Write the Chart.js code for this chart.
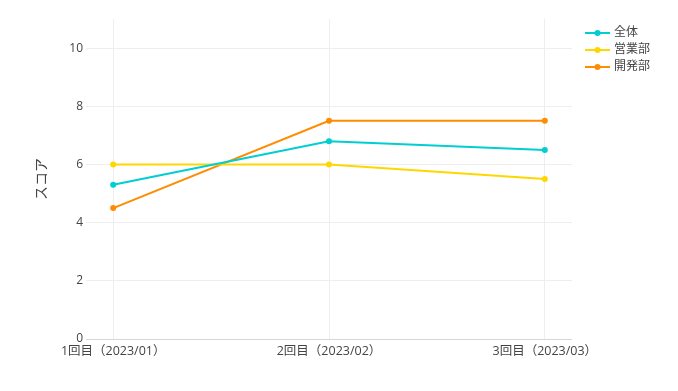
<!DOCTYPE html>
<html>
<head>
<meta charset="utf-8">
<script src="https://cdn.jsdelivr.net/npm/chart.js@4"></script>
<style>
html,body{margin:0;padding:0;background:#fff;}
#wrap{width:678px;height:391px;position:relative;}
</style>
</head>
<body>
<div id="wrap"><canvas id="c" width="678" height="391"></canvas></div>
<script>
const categories = ['1回目（2023/01）', '2回目（2023/02）', '3回目（2023/03）'];
const seriesNames = ['全体', '営業部', '開発部'];
const zentai = [5.3, 6.8, 6.5];
const eigyo = [6.0, 6.0, 5.5];
const kaihatsu = [4.5, 7.5, 7.5];
const yTicks = [0, 2, 4, 6, 8, 10];
const yTitle = 'スコア';
const colors = ['#00CED1', '#FFD700', '#FF8C00'];

const FONT = "'Open Sans', 'Noto Sans CJK JP', sans-serif";
const TXT = '#444';

const seriesValues = [zentai, eigyo, kaihatsu];
const datasets = seriesValues.map((vals, i) => ({
  label: seriesNames[i],
  data: vals.map((v, j) => ({x: j, y: v})),
  borderColor: colors[i],
  backgroundColor: colors[i],
  borderWidth: 2,
  pointRadius: 3,
  pointHoverRadius: 3,
  pointBorderWidth: 0,
  tension: 0
}));

const legendPlugin = {
  id: 'customLegend',
  afterDraw(chart) {
    const ctx = chart.ctx;
    ctx.save();
    ctx.font = '12px ' + FONT;
    ctx.textBaseline = 'middle';
    ctx.textAlign = 'left';
    chart.data.datasets.forEach((ds, i) => {
      const y = 33 + i * 17;
      ctx.strokeStyle = ds.borderColor;
      ctx.lineWidth = 2;
      ctx.beginPath();
      ctx.moveTo(585, y);
      ctx.lineTo(610, y);
      ctx.stroke();
      ctx.fillStyle = ds.borderColor;
      ctx.beginPath();
      ctx.arc(597.5, y, 3, 0, Math.PI * 2);
      ctx.fill();
      ctx.fillStyle = TXT;
      ctx.fillText(ds.label, 614, y);
    });
    ctx.restore();
  }
};

new Chart(document.getElementById('c'), {
  type: 'line',
  data: {datasets},
  plugins: [legendPlugin],
  options: {
    responsive: false,
    animation: false,
    events: [],
    layout: {padding: {left: 0, right: 106, top: 19, bottom: 0}},
    plugins: {legend: {display: false}, tooltip: {enabled: false}},
    scales: {
      x: {
        type: 'linear',
        min: -0.126,
        max: 2.126,
        afterBuildTicks: s => { s.ticks = categories.map((c, i) => ({value: i})); },
        afterFit: s => { s.height = 52; },
        border: {display: false},
        grid: {color: '#eeeeee', drawTicks: false, lineWidth: 1},
        ticks: {
          padding: 5,
          maxRotation: 0,
          autoSkip: false,
          color: TXT,
          font: {family: FONT, size: 12.5},
          callback: v => categories[v] !== undefined ? categories[v] : ''
        }
      },
      y: {
        type: 'linear',
        min: 0,
        max: 11,
        afterBuildTicks: s => { s.ticks = yTicks.map(v => ({value: v})); },
        afterFit: s => { s.width = 86; },
        border: {display: false},
        grid: {
          drawTicks: false,
          lineWidth: 1,
          color: c => c.tick && c.tick.value === 0 ? '#d6d6d6' : '#eeeeee'
        },
        ticks: {
          padding: 3,
          color: TXT,
          font: {family: FONT, size: 12}
        },
        title: {
          display: true,
          text: yTitle,
          color: TXT,
          font: {family: FONT, size: 14},
          padding: {top: 34, bottom: 0}
        }
      }
    }
  }
});
</script>
</body>
</html>
